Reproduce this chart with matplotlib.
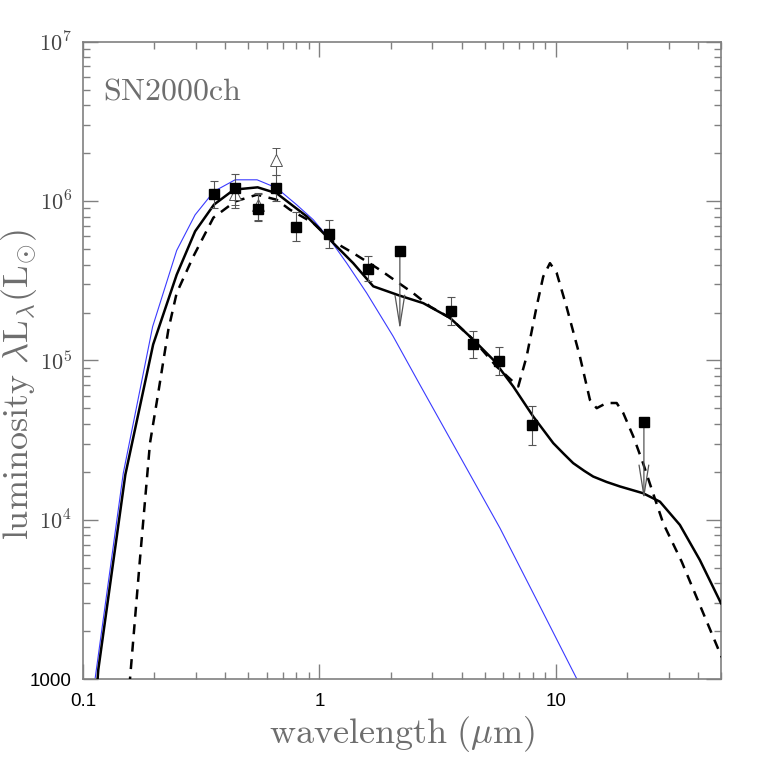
import matplotlib
matplotlib.use('Agg')
import matplotlib.pyplot as plt
import numpy as np

plt.rcParams['font.family'] = ['Liberation Sans', 'DejaVu Sans']
plt.rcParams['mathtext.fontset'] = 'cm'

# photometry (squares) with error bars
wl_obs = [0.358, 0.440, 0.548, 0.655, 0.80, 1.098, 1.60, 3.59, 4.48, 5.77, 7.96]
L_obs = [1.11e6, 1.20e6, 8.95e5, 1.21e6, 6.87e5, 6.21e5, 3.75e5, 2.04e5, 1.27e5, 9.86e4, 3.91e4]
L_lo = [9.1e5, 9.1e5, 7.5e5, 1.0e6, 5.6e5, 5.1e5, 3.15e5, 1.67e5, 1.03e5, 8.1e4, 2.95e4]
L_hi = [1.34e6, 1.47e6, 1.12e6, 1.45e6, 8.5e5, 7.6e5, 4.5e5, 2.5e5, 1.54e5, 1.22e5, 5.2e4]

# upper limits (square + downward arrow)
wl_ul = [2.19, 23.6]
L_ul = [4.83e5, 4.1e4]
L_ul_end = [1.56e5, 1.34e4]

# second epoch (open triangles)
wl_tri = [0.44, 0.548, 0.655]
L_tri = [1.10e6, 9.4e5, 1.82e6]
L_tri_lo = [9.5e5, 7.6e5, 1.45e6]
L_tri_hi = [1.25e6, 1.10e6, 2.15e6]

# blackbody (blue)
wl_bb = [0.110, 0.1124, 0.148, 0.197, 0.249, 0.298, 0.358, 0.440, 0.545, 0.659, 0.80,
         0.942, 1.11, 1.305, 1.585, 2.05, 2.66, 5.81, 8.5, 12.3, 15.4]
L_bb = [800, 1000, 1.96e4, 1.63e5, 4.9e5, 8.2e5, 1.15e6, 1.36e6, 1.36e6, 1.21e6, 9.5e5,
        7.64e5, 5.72e5, 4.08e5, 2.65e5, 1.42e5, 7.06e4, 8.87e3, 2.94e3, 1000, 556]

# model 1 (solid)
wl_m1 = [0.114, 0.116, 0.151, 0.198, 0.249, 0.298, 0.358, 0.435, 0.548, 0.659, 0.884, 1.074,
         1.39, 1.69, 2.19, 2.75, 3.57, 4.48, 5.44, 6.61, 8.03, 9.76, 10.8, 11.85, 13.2, 14.4,
         16.4, 18.7, 23.4, 27.6, 33.5, 40.7, 50.0]
L_m1 = [800, 1144, 1.92e4, 1.26e5, 3.45e5, 6.46e5, 9.5e5, 1.18e6, 1.22e6, 1.12e6, 8.02e5, 6.0e5,
        4.08e5, 2.92e5, 2.55e5, 2.29e5, 1.85e5, 1.35e5, 1.01e5, 6.87e4, 4.45e4, 3.03e4, 2.6e4,
        2.27e4, 2.03e4, 1.87e4, 1.73e4, 1.62e4, 1.47e4, 1.30e4, 9.3e3, 5.6e3, 3.0e3]

# model 2 (dashed)
wl_m2 = [0.155, 0.158, 0.174, 0.192, 0.208, 0.2296, 0.249, 0.293, 0.356, 0.440, 0.545, 0.659,
         0.751, 0.942, 1.145, 1.39, 1.80, 2.49, 2.94, 3.57, 4.48, 5.62, 6.94, 7.53, 8.30,
         8.85, 9.45, 10.09, 11.1, 12.65, 13.95, 14.9, 16.4, 18.1, 19.3, 21.3, 23.4, 25.8,
         28.5, 34.1, 49.5, 52.0]
L_m2 = [700, 1000, 5.6e3, 3.03e4, 6.24e4, 1.56e5, 2.65e5, 4.5e5, 7.87e5, 9.95e5, 1.097e6, 1.02e6,
        8.83e5, 7.29e5, 5.58e5, 4.72e5, 3.71e5, 2.65e5, 2.18e5, 1.85e5, 1.35e5, 9.16e4, 6.87e4,
        1.06e5, 2.18e5, 3.36e5, 4.08e5, 3.54e5, 2.18e5, 1.06e5, 5.66e4, 5.02e4, 5.41e4, 5.41e4,
        4.68e4, 3.33e4, 2.27e4, 1.47e4, 9.5e3, 5.47e3, 1.46e3, 1.25e3]

text_gray = '#6e6e6e'
axis_gray = '#808080'

fig = plt.figure(figsize=(7.61, 7.61), dpi=100)
ax = fig.add_axes([0.1091, 0.1074, 0.8383, 0.8378])

ax.plot(wl_bb, L_bb, color='#3a3aff', lw=0.8, zorder=2)
ax.plot(wl_m1, L_m1, color='black', lw=1.8, zorder=3)
ax.plot(wl_m2, L_m2, color='black', lw=1.8, linestyle=(0, (4, 3)), zorder=3)

# triangles with error bars
L_tri_arr = np.array(L_tri)
ax.errorbar(wl_tri, L_tri, yerr=[L_tri_arr - np.array(L_tri_lo), np.array(L_tri_hi) - L_tri_arr],
            fmt='^', ms=8, mfc='white', mec='#555555', mew=0.7, ecolor='#555555',
            elinewidth=0.8, capsize=3, capthick=0.8, zorder=4)

# squares with error bars
L_obs_arr = np.array(L_obs)
ax.errorbar(wl_obs, L_obs, yerr=[L_obs_arr - np.array(L_lo), np.array(L_hi) - L_obs_arr],
            fmt='s', ms=7, color='black', ecolor='#555555', elinewidth=0.8,
            capsize=3, capthick=0.8, zorder=5)

# upper limits
for w, top, bot in zip(wl_ul, L_ul, L_ul_end):
    ax.annotate('', xy=(w, bot), xytext=(w, top),
                arrowprops=dict(arrowstyle='->, head_length=2.2, head_width=0.35',
                                color='#555555', lw=0.9, shrinkA=0, shrinkB=0), zorder=4)
ax.plot(wl_ul, L_ul, 's', ms=7, color='black', zorder=5)

ax.set_xscale('log')
ax.set_yscale('log')
ax.set_xlim(0.1, 50)
ax.set_ylim(1000, 1e7)

ax.tick_params(which='both', direction='in', top=True, right=True, color=axis_gray)
ax.tick_params(which='major', length=11, width=1)
ax.tick_params(which='minor', length=5, width=1)
ax.tick_params(axis='x', which='major', labelsize=13.5, pad=10)
ax.tick_params(axis='y', which='major', labelsize=13.5, pad=8)

ax.set_xticks([0.1, 1, 10])
ax.set_xticklabels(['0.1', '1', '10'])
ax.set_yticks([1e3, 1e4, 1e5, 1e6, 1e7])
ylabels = ax.set_yticklabels(['1000', r'$10^{4}$', r'$10^{5}$', r'$10^{6}$', r'$10^{7}$'])
for lab in ylabels[1:]:
    lab.set_color('#444444')
    lab.set_fontsize(16)
ax.yaxis.set_minor_formatter(matplotlib.ticker.NullFormatter())
ax.xaxis.set_minor_formatter(matplotlib.ticker.NullFormatter())
for s in ax.spines.values():
    s.set_color(axis_gray)
    s.set_linewidth(1.2)

fig.text(0.528, 0.036, r'$\mathrm{wavelength}\ (\mu\mathrm{m})$', fontsize=26,
         color=text_gray, ha='center', va='center')
fig.text(0.025, 0.495, r'$\mathrm{luminosity}\ \lambda\mathrm{L}_{\lambda}(\mathrm{L}_{\odot})$',
         fontsize=26, color=text_gray, ha='center', va='center', rotation=90)
ax.text(0.032, 0.945, r'$\mathrm{SN2000ch}$', transform=ax.transAxes, fontsize=23,
        color=text_gray, ha='left', va='top')

fig.savefig('out.png', dpi=100)
